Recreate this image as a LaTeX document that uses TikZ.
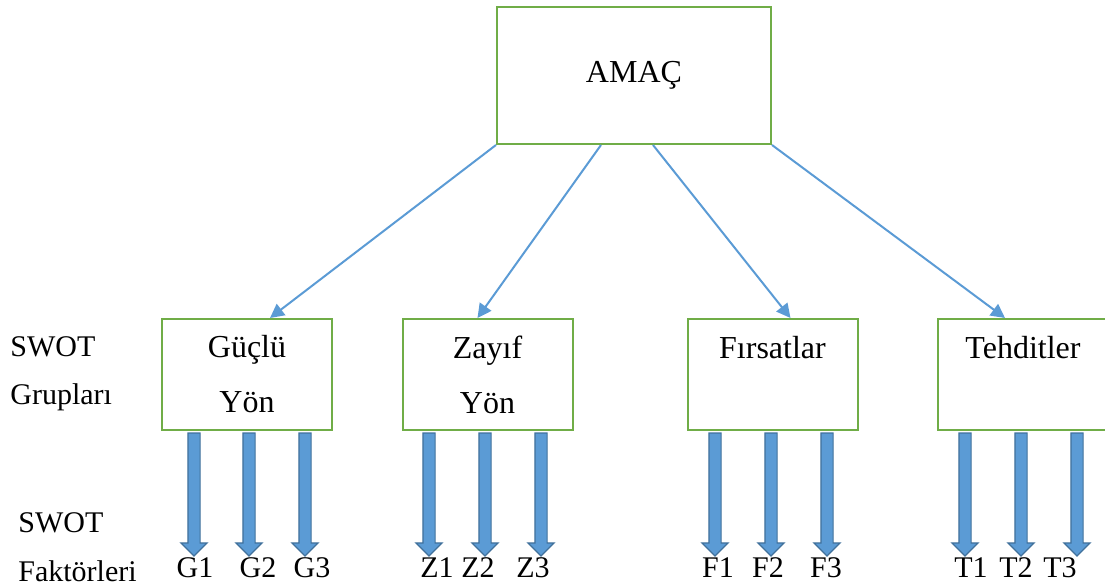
\documentclass[tikz,border=0pt]{standalone}
\usepackage{fontspec}
\setmainfont{Liberation Serif}
\usetikzlibrary{shapes.arrows, arrows.meta, positioning, calc}
\definecolor{boxgreen}{HTML}{70AD47}
\definecolor{lineblue}{HTML}{5B9BD5}
\definecolor{edgeblue}{HTML}{41719C}

\begin{document}
\begin{tikzpicture}[x=0.5pt, y=-0.5pt,
    box/.style={rectangle, draw=boxgreen, line width=1pt, fill=white, minimum width=85pt, minimum height=55.5pt, align=center, font=\fontsize{16}{27.5}\selectfont},
    conn/.style={draw=lineblue, line width=1pt, -{Triangle[length=7pt, width=7pt]}},
    fatarrow/.style={single arrow, draw=edgeblue, fill=lineblue, line width=0.6pt, rotate=-90, minimum height=61.5pt, minimum width=12.5pt, inner sep=2.75pt, single arrow head extend=3.5pt},
    lbl/.style={font=\fontsize{15}{18}\selectfont, inner sep=0pt, anchor=base}]
    \useasboundingbox (0,0) rectangle (1105,587);

    % Nodes
    \node (amac) [box, minimum width=137pt, minimum height=68.5pt] at (634,75.5) {\raisebox{2.5pt}{AMAÇ}};
    \node (gy) [box] at (247,374.5) {Güçlü\\Yön};
    \node (zy) [box] at (487.5,374.5) {Zayıf\\Yön};
    \node (fr) [box] at (772.5,374.5) {Fırsatlar\\~};
    \node (th) [box] at (1023,374.5) {Tehditler\\~};

    \node (swot1) [lbl, anchor=base west] at (10,357) {SWOT};
    \node (grup) [lbl, anchor=base west] at (10,405) {Grupları};
    \node (swot2) [lbl, anchor=base west] at (18,533) {SWOT};
    \node (fakt) [lbl, anchor=base west] at (18,582) {Faktörleri};

    % SWOT factors
    \foreach \n/\t/\x/\lx in {g1/G1/194/195, g2/G2/249/258, g3/G3/305/312,
                              z1/Z1/429/437, z2/Z2/485/478, z3/Z3/541/533,
                              f1/F1/715/718, f2/F2/771/768, f3/F3/827/826,
                              t1/T1/965/971, t2/T2/1021/1016, t3/T3/1077/1060}{
        \node (\n a) [fatarrow] at (\x,491.5) {};
        \node (\n) [lbl] at (\lx,578) {\t};
    }

    % Edges
    \draw[conn] ($(amac.south west)+(0,0)$) -- ($(gy.north)+(23,0)$);
    \draw[conn] ($(amac.south west)+(105,0)$) -- ($(zy.north)+(-10,0)$);
    \draw[conn] ($(amac.south west)+(157,0)$) -- ($(fr.north)+(18,0)$);
    \draw[conn] ($(amac.south east)+(0,0)$) -- ($(th.north)+(-18,0)$);
\end{tikzpicture}
\end{document}
